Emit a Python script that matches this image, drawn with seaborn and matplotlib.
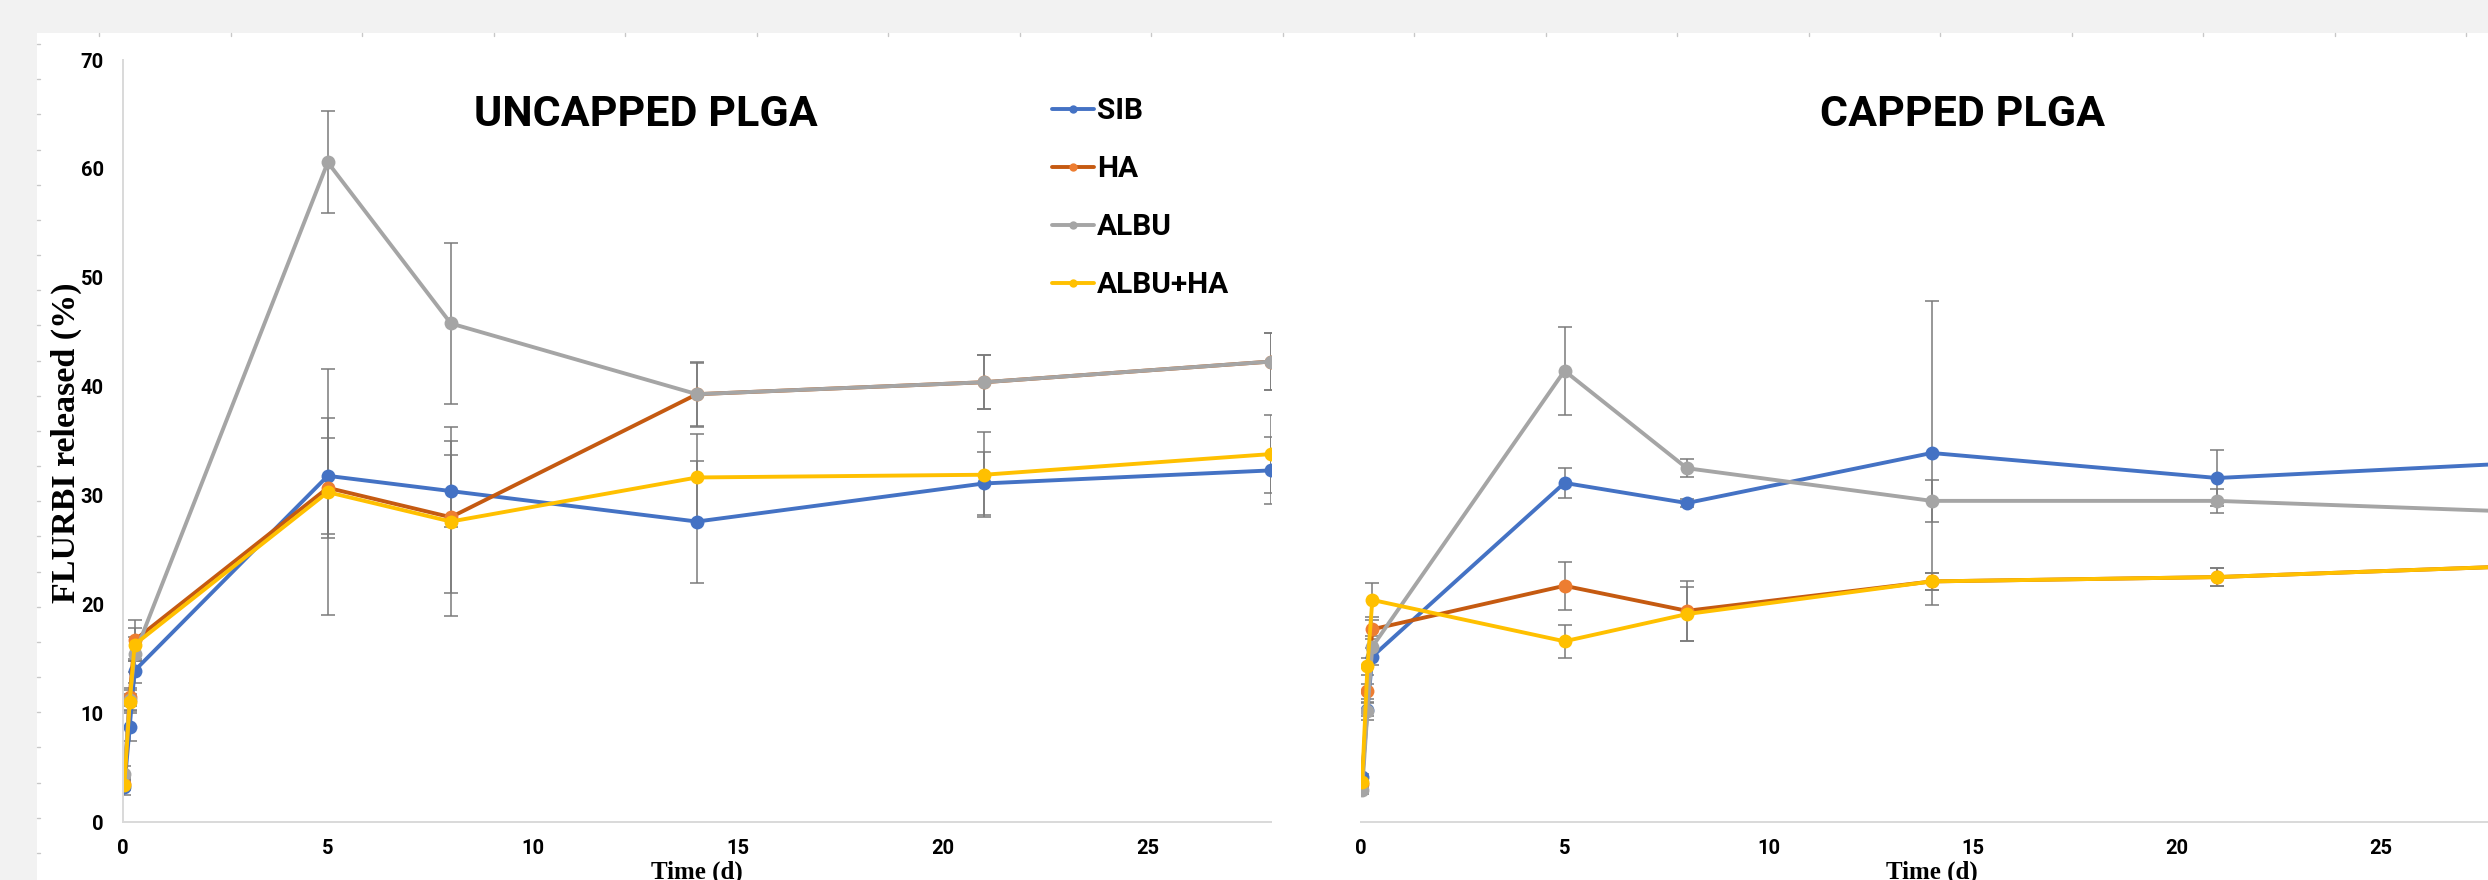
import numpy as np
import pandas as pd
import matplotlib
matplotlib.use("Agg")
import matplotlib.pyplot as plt
import seaborn as sns
from matplotlib.lines import Line2D
from matplotlib.patches import Rectangle

# sampling times (days)
TIMES = [0.04, 0.17, 0.29, 5, 8, 14, 21, 28]
GROUPS = ["SIB", "HA", "ALBU", "ALBU+HA"]

# uncapped PLGA, mean release (%) and error
UNCAPPED_SIB = [3.2, 8.7, 13.9, 31.8, 30.4, 27.6, 31.1, 32.3]
UNCAPPED_SIB_ERR = [0.7, 1.3, 1.1, 5.3, 3.3, 5.6, 2.9, 3.1]
UNCAPPED_HA = [3.5, 11.5, 16.7, 30.7, 28.0, 39.3, 40.4, 42.3]
UNCAPPED_HA_ERR = [0.5, 0.8, 1.9, 4.6, 7.0, 2.9, 2.5, 2.6]
UNCAPPED_ALBU = [4.4, 11.2, 15.4, 60.6, 45.8, 39.3, 40.4, 42.3]
UNCAPPED_ALBU_ERR = [0.7, 0.9, 1.6, 4.7, 7.4, 3.0, 2.5, 2.65]
UNCAPPED_ALBU_HA = [3.4, 11.0, 16.3, 30.3, 27.6, 31.65, 31.9, 33.8]
UNCAPPED_ALBU_HA_ERR = [0.5, 0.8, 1.5, 11.3, 8.7, 4.0, 3.9, 3.6]

# capped PLGA
CAPPED_SIB = [4.1, 10.3, 15.2, 31.15, 29.3, 33.9, 31.6, 32.9]
CAPPED_SIB_ERR = [0.3, 0.6, 0.8, 1.4, 0.4, 14.0, 2.6, 2.5]
CAPPED_HA = [3.5, 12.0, 17.7, 21.7, 19.4, 22.1, 22.5, 23.45]
CAPPED_HA_ERR = [0.3, 0.7, 0.9, 2.2, 2.75, 0.8, 0.8, 0.8]
CAPPED_ALBU = [2.9, 10.2, 16.1, 41.45, 32.5, 29.5, 29.5, 28.55]
CAPPED_ALBU_ERR = [0.3, 0.8, 1.0, 4.05, 0.85, 1.9, 1.1, 1.0]
CAPPED_ALBU_HA = [3.7, 14.3, 20.4, 16.6, 19.1, 22.1, 22.5, 23.45]
CAPPED_ALBU_HA_ERR = [0.3, 0.8, 1.6, 1.5, 2.5, 0.8, 0.8, 0.8]

LINE_COLORS = {"SIB": "#4472c4", "HA": "#c55a11", "ALBU": "#a5a5a5", "ALBU+HA": "#ffc000"}
MARKER_COLORS = {"SIB": "#4472c4", "HA": "#ed7d31", "ALBU": "#a5a5a5", "ALBU+HA": "#ffc000"}

SANS = ["Roboto", "Lato", "DejaVu Sans"]
SERIF = ["Liberation Serif", "DejaVu Serif"]

W, H = 2488, 880


def make_frame(values, errors):
    rows = []
    for g, vals, errs in zip(GROUPS, values, errors):
        for t, v, e in zip(TIMES, vals, errs):
            rows.append({"time": t, "release": v, "err": e, "group": g})
    return pd.DataFrame(rows)


uncapped = make_frame(
    [UNCAPPED_SIB, UNCAPPED_HA, UNCAPPED_ALBU, UNCAPPED_ALBU_HA],
    [UNCAPPED_SIB_ERR, UNCAPPED_HA_ERR, UNCAPPED_ALBU_ERR, UNCAPPED_ALBU_HA_ERR],
)
capped = make_frame(
    [CAPPED_SIB, CAPPED_HA, CAPPED_ALBU, CAPPED_ALBU_HA],
    [CAPPED_SIB_ERR, CAPPED_HA_ERR, CAPPED_ALBU_ERR, CAPPED_ALBU_HA_ERR],
)

sns.set_style("white")
plt.rcParams["font.family"] = SANS
plt.rcParams["text.color"] = "black"
plt.rcParams["xtick.color"] = "black"
plt.rcParams["ytick.color"] = "black"

fig = plt.figure(figsize=(W / 100, H / 100), dpi=100)
fig.patch.set_facecolor("#f2f2f2")
fig.add_artist(Rectangle((37 / W, 0), 1 - 37 / W, (H - 33) / H,
                         transform=fig.transFigure, facecolor="white",
                         edgecolor="none", zorder=-10))
# faint ruler marks along the page edge
for px in np.arange(99, W, 131.5):
    fig.add_artist(Line2D([px / W, px / W], [1 - 33 / H, 1 - 36 / H],
                          transform=fig.transFigure, color="#c8c8c8", lw=1))
for py in np.arange(44, H, 35.17):
    fig.add_artist(Line2D([37 / W, 40 / W], [1 - py / H, 1 - py / H],
                          transform=fig.transFigure, color="#c8c8c8", lw=1))

y0, y_top = 822, 60
ax1 = fig.add_axes([122.7 / W, (H - y0) / H, 1148.4 / W, (y0 - y_top) / H])
ax2 = fig.add_axes([1360.5 / W, (H - y0) / H, 28 * 40.8 / W, (y0 - y_top) / H])


def draw_panel(ax, df, title, title_x):
    ax.set_facecolor("none")
    for g in GROUPS:
        sub = df[df["group"] == g]
        ax.errorbar(sub["time"], sub["release"], yerr=sub["err"], fmt="none",
                    ecolor="#7a7a7a", elinewidth=1.1, capsize=5, capthick=1.1,
                    zorder=1.5)
    for g in GROUPS:
        sub = df[df["group"] == g]
        sns.lineplot(data=sub, x="time", y="release", ax=ax, color=LINE_COLORS[g],
                     linewidth=2.8, marker="o", markersize=10,
                     markerfacecolor=MARKER_COLORS[g],
                     markeredgecolor=MARKER_COLORS[g], markeredgewidth=0,
                     label=g, legend=False, sort=False, errorbar=None, zorder=2)
    ax.set_xlim(0, 28)
    ax.set_ylim(0, 70)
    ax.set_xticks([0, 5, 10, 15, 20, 25])
    ax.set_yticks(range(0, 71, 10))
    ax.tick_params(axis="both", length=0, labelsize=14.5, labelcolor="black")
    ax.tick_params(axis="x", pad=12)
    ax.tick_params(axis="y", pad=13.5)
    for lab in ax.get_xticklabels() + ax.get_yticklabels():
        lab.set_fontweight("bold")
    for s in ["top", "right"]:
        ax.spines[s].set_visible(False)
    for s in ["left", "bottom"]:
        ax.spines[s].set_color("#d9d9d9")
        ax.spines[s].set_linewidth(1.4)
    ax.set_xlabel("")
    ax.set_ylabel("")
    ax.text(title_x, 0.9286, title, transform=ax.transAxes, ha="center",
            va="center", fontsize=31, fontweight="bold", family=SANS,
            color="black")
    ax.text(0.5, -0.05, "Time (d)", transform=ax.transAxes, ha="center",
            va="top", fontsize=18, fontweight="bold", family=SERIF,
            color="black")


draw_panel(ax1, uncapped, "UNCAPPED PLGA", 0.4557)
draw_panel(ax2, capped, "CAPPED PLGA", 0.527)

ax1.text(-0.049, 0.498, "FLURBI released (%)", transform=ax1.transAxes,
         rotation=90, ha="center", va="center", fontsize=24.5,
         fontweight="bold", family=SERIF, color="black")

handles = [l for l in ax1.get_lines() if l.get_label() in GROUPS]
leg = ax1.legend(handles, GROUPS, loc="upper left",
                 bbox_to_anchor=((1052 - 122.7) / 1148.4, (822 - 97) / 762),
                 frameon=False, borderpad=0, borderaxespad=0, handlelength=1.4,
                 handletextpad=0.1, labelspacing=1.01, markerscale=0.6,
                 prop={"family": SANS, "weight": "bold", "size": 21.5})
for t in leg.get_texts():
    t.set_color("black")

ax2.spines["left"].set_visible(False)
ax2.set_yticklabels([])

fig.savefig("out.png", dpi=100)
